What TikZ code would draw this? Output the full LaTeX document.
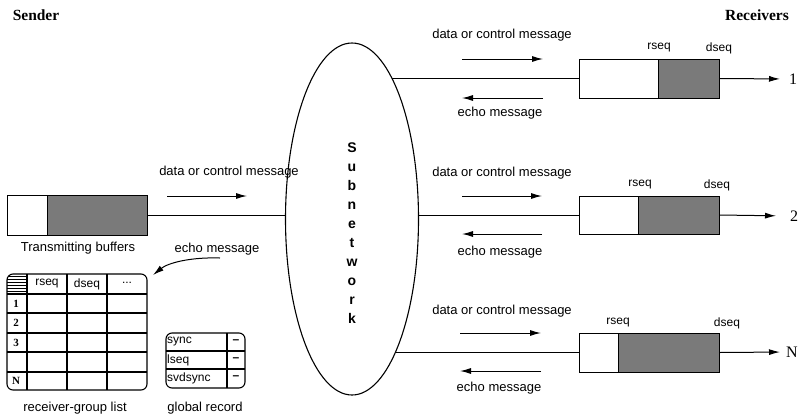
\documentclass[tikz,border=0pt]{standalone}
\usepackage{fontspec}
\setmainfont{Liberation Sans}
\newfontfamily\serf{Liberation Serif}
\usetikzlibrary{shapes.geometric,arrows.meta}
\begin{document}
\begin{tikzpicture}[x=1pt,y=-1pt,
  lbl/.style={font=\fontsize{13}{15}\selectfont, inner sep=0},
  small/.style={font=\fontsize{12}{14}\selectfont, inner sep=0},
  head/.style={font=\serf\bfseries\fontsize{15.5}{18}\selectfont, inner sep=0},
  rlabel/.style={font=\serf\fontsize{16}{18}\selectfont, inner sep=0, anchor=west},
  rownum/.style={font=\serf\bfseries\fontsize{11}{12}\selectfont, inner sep=0},
  buf/.style={draw, line width=1pt, minimum width=140pt, minimum height=39pt, inner sep=0},
  shade/.style={fill=black!52},
  msg/.style={-{Latex[length=11pt,width=6pt]}, line width=1pt},
  conn/.style={line width=1pt},
  tbl/.style={line width=1.1pt},
]
\useasboundingbox (0,0) rectangle (800,418);

% headings
\node[head] (hs) at (36,15) {Sender};
\node[head] (hr) at (757,15) {Receivers};

% subnetwork
\node[draw, ellipse, line width=1.1pt, minimum width=133pt, minimum height=352pt, inner sep=0] (sub) at (352,219) {};
\node[font=\bfseries\fontsize{14}{19}\selectfont, align=center, inner sep=0] (subtxt) at (352,233)
  {S\\u\\b\\n\\e\\t\\w\\o\\r\\k};

% sender buffer
\fill[shade] (47,195) rectangle (147,235);
\node[buf, minimum height=40pt] (sb) at (77,215) {};
\draw[conn] (47,195) -- (47,235);
\node[lbl] (sbl) at (78,248) {Transmitting buffers};
\draw[conn] (sb.east) -- (sb.east -| sub.west);
\node[lbl] (sdt) at (229,172) {data or control message};
\coordinate (sa1) at (167,196);
\coordinate (sa2) at (247,196);
\draw[msg] (sa1) -- (sa2);

% echo to sender
\node[lbl] (sem) at (217,249) {echo message};
\coordinate (ec1) at (220,258);
\coordinate (ec2) at (153,275);
\draw[msg] (ec1) .. controls (190,257) and (168,263) .. (ec2);

% receiver-group list
\begin{scope}
\clip[rounded corners=6pt] (7,274) rectangle (147,390);
\foreach \yy in {276,279,282,285,288,291} \draw[line width=0.7pt] (7,\yy) -- (27,\yy);
\end{scope}
\draw[tbl, rounded corners=6pt] (7,274) rectangle (147,390);
\foreach \xx in {27,67,107} \draw[tbl] (\xx,274) -- (\xx,390);
\foreach \yy in {294,313,333,352,372} \draw[tbl] (7,\yy) -- (147,\yy);
\node[small] (th1) at (47,284) {rseq};
\node[small] (th2) at (87,284) {dseq};
\node[small] (th3) at (127,283) {...};
\node[rownum] (n1) at (16,304) {1};
\node[rownum] (n2) at (16,323) {2};
\node[rownum] (n3) at (16,343) {3};
\node[rownum] (nN) at (16,381) {N};
\node[lbl] (rgl) at (75,408) {receiver-group list};

% global record
\draw[tbl, rounded corners=6pt] (166,333) rectangle (245,388);
\draw[tbl] (227,333) -- (227,388);
\draw[tbl] (166,351) -- (245,351);
\draw[tbl] (166,369) -- (245,369);
\node[small, anchor=west] (g1) at (167,342) {sync};
\node[small, anchor=west] (g2) at (167,360) {lseq};
\node[small, anchor=west] (g3) at (167,378) {svdsync};
\node[small] (d1) at (236,342) {\textbf{--}};
\node[small] (d2) at (236,360) {\textbf{--}};
\node[small] (d3) at (236,378) {\textbf{--}};
\node[lbl] (grl) at (205,408) {global record};

% receiver 1
\fill[shade] (658,59) rectangle (719,98);
\node[buf] (r1) at (649,78.5) {};
\draw[conn] (658,59) -- (658,98);
\node[small] (r1r) at (659,48) {rseq};
\node[small] (r1d) at (719,48) {dseq};
\node[rlabel] (l1) at (789,79) {1};
\draw[msg, shorten >=9pt] (r1.east) -- (l1.west);
\draw[conn] (sub.74 |- r1.west) -- (r1.west);
\node[lbl] (t1) at (502,35) {data or control message};
\coordinate (a1s) at (462,59); \coordinate (a1e) at (543,59);
\draw[msg] (a1s) -- (a1e);
\coordinate (b1s) at (543,98); \coordinate (b1e) at (462,98);
\draw[msg] (b1s) -- (b1e);
\node[lbl] (e1) at (500,113) {echo message};

% receiver 2
\fill[shade] (638,196) rectangle (719,234);
\node[buf, minimum height=38pt] (r2) at (649,215) {};
\draw[conn] (638,196) -- (638,234);
\node[small] (r2r) at (640,185) {rseq};
\node[small] (r2d) at (717,185) {dseq};
\node[rlabel] (l2) at (790,216) {2};
\draw[msg, shorten >=14pt] (r2.east) -- (l2.west);
\draw[conn] (sub.east |- r2.west) -- (r2.west);
\node[lbl] (t2) at (502,173) {data or control message};
\coordinate (a2s) at (462,196); \coordinate (a2e) at (542,196);
\draw[msg] (a2s) -- (a2e);
\coordinate (b2s) at (542,234); \coordinate (b2e) at (462,234);
\draw[msg] (b2s) -- (b2e);
\node[lbl] (e2) at (500,252) {echo message};

% receiver N
\fill[shade] (618,333) rectangle (719,372);
\node[buf] (rN) at (649,352.5) {};
\draw[conn] (618,333) -- (618,372);
\node[small] (rNr) at (618,323) {rseq};
\node[small] (rNd) at (727,323) {dseq};
\node[rlabel] (lN) at (786,352) {N};
\draw[msg, shorten >=6pt] (rN.east) -- (lN.west);
\draw[conn] (sub.-72 |- rN.west) -- (rN.west);
\node[lbl] (tN) at (502,311) {data or control message};
\coordinate (aNs) at (460,333); \coordinate (aNe) at (541,333);
\draw[msg] (aNs) -- (aNe);
\coordinate (bNs) at (541,371); \coordinate (bNe) at (460,371);
\draw[msg] (bNs) -- (bNe);
\node[lbl] (eN) at (499,388) {echo message};
\end{tikzpicture}
\end{document}
